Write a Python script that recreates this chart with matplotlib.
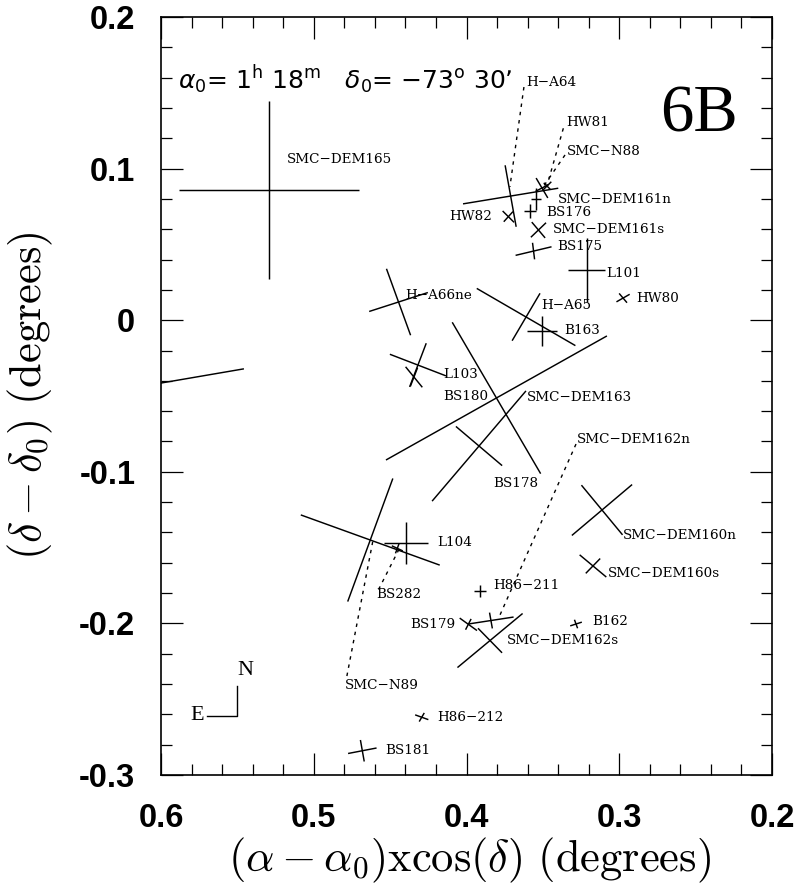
import numpy as np
import matplotlib
matplotlib.use("Agg")
import matplotlib.pyplot as plt

# ---------------- data ----------------
obj_names = ["SMC-DEM165", "edge", "H-A66ne", "L103", "BS180", "SMC-DEM163", "BS178",
             "H-A65", "B163", "L101", "HW80", "H-A64", "HW82", "SMC-DEM161n", "HW81",
             "SMC-N88", "BS176", "SMC-DEM161s", "BS175", "SMC-DEM160n", "SMC-DEM160s",
             "B162", "SMC-DEM162s", "BS179", "SMC-DEM162n", "H86-211", "H86-212",
             "BS181", "L104", "SMC-N89", "BS282"]
obj_x = [0.5293, 0.6072, 0.4445, 0.4318, 0.4344, 0.3804, 0.3918, 0.3610, 0.3506, 0.3213,
         0.2975, 0.3711, 0.3726, 0.3506, 0.3473, 0.3545, 0.3584, 0.3529, 0.3561, 0.3113,
         0.3172, 0.3283, 0.3846, 0.3988, 0.3840, 0.3912, 0.4293, 0.4682, 0.4396, 0.4630,
         0.4453]
obj_y = [0.0859, -0.0427, 0.0120, -0.0296, -0.0375, -0.0513, -0.0830, 0.0021, -0.0071,
         0.0331, 0.0146, 0.0819, 0.0683, 0.0872, 0.0885, 0.0800, 0.0720, 0.0595, 0.0456,
         -0.1252, -0.1621, -0.2004, -0.2113, -0.2006, -0.1981, -0.1786, -0.2619, -0.2840,
         -0.1470, -0.1450, -0.1505]
major_half = [0.059, 0.0624, 0.0233, 0.0197, 0.0087, 0.0831, 0.0476, 0.0374, 0.0099, 0.021,
              0.005, 0.0316, 0.0053, 0.0076, 0.004, 0.0072, 0.004, 0.0069, 0.0121, 0.0259,
              0.0114, 0.004, 0.0278, 0.007, 0.015, 0.004, 0.0046, 0.0095, 0.0145, 0.0484,
              0.004]
major_pa = [0, 9.8, 109.8, -21.2, -51, 29.5, 49.8, -30.3, 0, 90, 30, 9.4, -45, -59.7, 45,
            90, 0, 44, 13.5, 40.4, -40, 18, 39.9, -36, 8.8, 0, -20, 11, 0, -20, -25]
minor_half = [0.0585, 0.0, 0.0202, 0.0154, 0.0066, 0.0577, 0.0199, 0.0181, 0.0101, 0.012,
              0.004, 0.0206, 0.0045, 0.0047, 0.003, 0.003, 0.0046, 0.0068, 0.0055, 0.0212,
              0.0068, 0.003, 0.0113, 0.004, 0.0053, 0.004, 0.0033, 0.0072, 0.0138, 0.0432,
              0.0035]
minor_pa = [90, 0, 18, 69.3, 69, 120.1, -40.5, 59.7, 90, 0, -50, 100.1, 48, 27.7, -45,
            0, 90, -50, 97, -50.6, 46, -70, -45.8, 63, 100, 90, 60, 100, 90, 70, 70]

label_text = ["SMC−DEM165", "H−A64", "HW81", "SMC−N88", "SMC−DEM161n", "HW82", "BS176",
              "SMC−DEM161s", "BS175", "L101", "HW80", "H−A66ne", "H−A65", "B163", "L103",
              "BS180", "SMC−DEM163", "SMC−DEM162n", "BS178", "SMC−DEM160n", "L104",
              "SMC−DEM160s", "BS282", "H86−211", "BS179", "B162", "SMC−DEM162s",
              "SMC−N89", "H86−212", "BS181"]
label_x = [0.5175, 0.3610, 0.3344, 0.3344, 0.3399, 0.4113, 0.3475, 0.3432, 0.3409, 0.3082,
           0.2886, 0.4403, 0.3508, 0.3362, 0.4152, 0.4152, 0.3606, 0.3275, 0.3825, 0.2973,
           0.4191, 0.3072, 0.4588, 0.3825, 0.4075, 0.3180, 0.3733, 0.4795, 0.4191, 0.4534]
label_y = [0.1057, 0.1571, 0.1303, 0.1111, 0.0793, 0.0683, 0.0712, 0.0600, 0.0485, 0.0309,
           0.0144, 0.0166, 0.0100, -0.0071, -0.0361, -0.0505, -0.0511, -0.0786, -0.1076,
           -0.1423, -0.1468, -0.1670, -0.1808, -0.1747, -0.2004, -0.1989, -0.2116, -0.2411,
           -0.2619, -0.2840]
label_right = ["BS179"]

conn_x0 = [0.3624, 0.3366, 0.3355, 0.3283, 0.4442, 0.4614]
conn_y0 = [0.1538, 0.1266, 0.1090, -0.0817, -0.1511, -0.1461]
conn_x1 = [0.3716, 0.3475, 0.3497, 0.3781, 0.4588, 0.4784]
conn_y1 = [0.0879, 0.0881, 0.0881, -0.1945, -0.1801, -0.2352]

x_ticks = [0.6, 0.5, 0.4, 0.3, 0.2]
y_ticks = [0.2, 0.1, 0.0, -0.1, -0.2, -0.3]
x_ticklabels = ["0.6", "0.5", "0.4", "0.3", "0.2"]
y_ticklabels = ["0.2", "0.1", "0", "-0.1", "-0.2", "-0.3"]

compass_x = [0.5701, 0.5500, 0.5500]
compass_y = [-0.2609, -0.2609, -0.2413]

# ---------------- figure ----------------
fig = plt.figure(figsize=(7.94, 8.88), dpi=100)
ax = fig.add_axes([161 / 794, 1 - 775 / 888, 611 / 794, 758 / 888])
ax.set_xlim(0.6, 0.2)
ax.set_ylim(-0.3, 0.2)

lw = 1.05
for cx, cy, a, pa, b, pb in zip(obj_x, obj_y, major_half, major_pa, minor_half, minor_pa):
    for h, th in ((a, pa), (b, pb)):
        if h <= 0:
            continue
        t = np.deg2rad(th)
        dx = -h * np.cos(t)
        dy = h * np.sin(t)
        ax.plot([cx - dx, cx + dx], [cy - dy, cy + dy], color="black", lw=lw,
                solid_capstyle="butt")

for x0, y0, x1, y1 in zip(conn_x0, conn_y0, conn_x1, conn_y1):
    ax.plot([x0, x1], [y0, y1], color="black", lw=1.0, linestyle=(0, (2.5, 3.5)))

lab_font = dict(family="DejaVu Serif", fontsize=9.7, color="black")
for t, x, y in zip(label_text, label_x, label_y):
    ha = "right" if t.replace("−", "-") in label_right else "left"
    ax.text(x, y, t, ha=ha, va="center", **lab_font)

ax.plot(compass_x, compass_y, color="black", lw=1.0)
ax.text(compass_x[2] - 0.005, compass_y[2] + 0.0105, "N", family="Liberation Serif",
        fontsize=16, ha="center", va="center")
ax.text(compass_x[0] + 0.006, compass_y[0], "E", family="Liberation Serif",
        fontsize=16, ha="center", va="center")

ax.text(0.8805, 0.8707, "6B", transform=ax.transAxes, family="Liberation Serif",
        fontsize=48, ha="center", va="center")
ax.text(0.0278, 0.9169,
        r"$\alpha_0$= 1$^{\rm h}$ 18$^{\rm m}$   $\delta_0$= $-$73$^{\rm o}$ 30’",
        transform=ax.transAxes, family="DejaVu Sans", fontsize=18, ha="left", va="center")

ax.set_xticks(x_ticks)
ax.set_xticklabels(x_ticklabels)
ax.set_yticks(y_ticks)
ax.set_yticklabels(y_ticklabels)
ax.set_xticks(np.arange(0.2, 0.6001, 0.02), minor=True)
ax.set_yticks(np.arange(-0.3, 0.2001, 0.02), minor=True)
ax.tick_params(which="both", direction="in", top=True, right=True, width=0.9)
ax.tick_params(which="major", length=16, labelsize=23.5)
ax.tick_params(axis="x", which="major", pad=20)
ax.tick_params(axis="y", which="major", pad=18.5)
ax.tick_params(which="minor", length=8)
for lab in ax.get_xticklabels() + ax.get_yticklabels():
    lab.set_fontweight("bold")
    lab.set_family("Liberation Sans")
for s in ax.spines.values():
    s.set_linewidth(1.2)

ax.set_xlabel(r"$(\alpha - \alpha_0)\mathrm{xcos}(\delta)\ \mathrm{(degrees)}$",
              fontsize=32, math_fontfamily="cm")
ax.set_ylabel(r"$(\delta - \delta_0)\ \mathrm{(degrees)}$",
              fontsize=32, math_fontfamily="cm")
ax.xaxis.set_label_coords(0.5057, -0.112)
ax.xaxis.label.set_va("center")
ax.yaxis.set_label_coords(-0.2144, 0.5)
ax.yaxis.label.set_va("center")

fig.savefig("out.png", dpi=100)
